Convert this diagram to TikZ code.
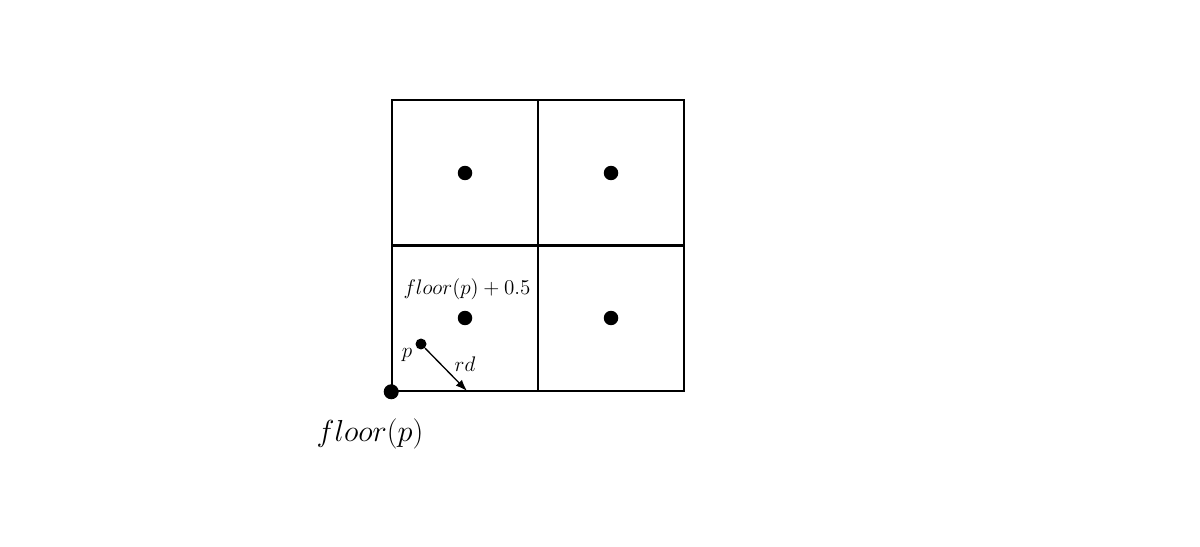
\documentclass[tikz,border=0pt]{standalone}
\usepackage{tikz}
\usetikzlibrary{arrows,arrows.meta,positioning}

\begin{document}
\begin{tikzpicture}[x=0.02cm,y=-0.02cm,
        cell/.style={draw,line width=0.9pt,minimum size=2.92cm,inner sep=0pt},
        bigdot/.style={circle,fill,inner sep=0pt,minimum size=0.29cm},
        smalldot/.style={circle,fill,inner sep=0pt,minimum size=0.22cm},
        arrow/.style={line width=0.75pt,->,>={Latex[length=2.3mm,width=1.7mm]}},
    ]
    \useasboundingbox (0,0) rectangle (1200,547);

    % grid cells
    \node[cell] (c11) at (465,173) {};
    \node[cell] (c12) at (611,173) {};
    \node[cell] (c21) at (465,318) {};
    \node[cell] (c22) at (611,318) {};

    % cell centres
    \node[bigdot] (m11) at (465,173) {};
    \node[bigdot] (m12) at (611,173) {};
    \node[bigdot] (m21) at (465,318) {};
    \node[bigdot] (m22) at (611,318) {};

    \node[bigdot,minimum size=0.3cm] (fl) at (c21.south west) {};
    \node[smalldot] (p) at (421,344) {};
    \coordinate (rdend) at (467,391);

    \draw[arrow] (p) -- (rdend);

    \node[font=\large] (lblhalf) at (467,289) {$floor(p)+0.5$};
    \node[font=\large] (lblp) at (407,355) {$p$};
    \node[font=\large] (lblrd) at (465,364) {$rd$};
    \node[font=\LARGE] (lblfl) at (370,434) {$floor(p)$};
\end{tikzpicture}
\end{document}
